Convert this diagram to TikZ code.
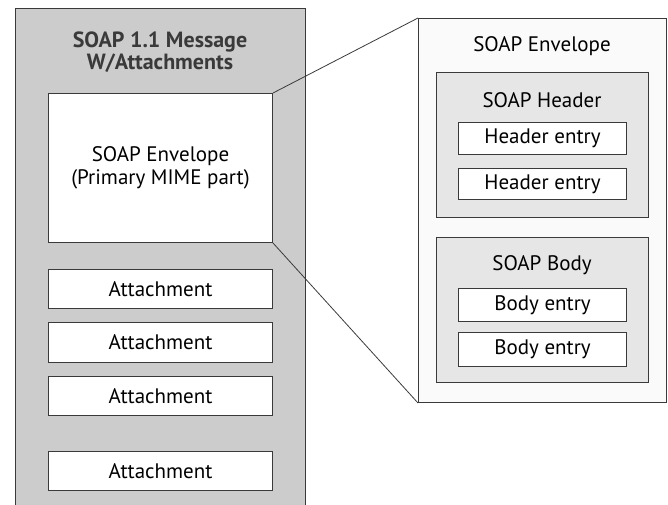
\documentclass[tikz,border=0pt]{standalone}
\usepackage{fontspec}
\setmainfont{PT Sans}
\definecolor{msggray}{HTML}{CCCCCC}
\definecolor{partgray}{HTML}{E6E6E6}
\definecolor{linegray}{HTML}{3A3A3A}
\tikzset{
  box/.style={draw=linegray, line width=1pt, inner sep=0pt, anchor=north west},
  entrybox/.style={box, fill=white, font=\fontsize{21}{23}\selectfont},
}
\begin{document}
\begin{tikzpicture}[x=1pt, y=-1pt]

    \useasboundingbox (0,0) rectangle (668,504);

    % 1. the message on the left (gray, runs past the bottom edge)
    \node[box, fill=msggray, minimum width=290pt, minimum height=520pt] (msg) at (15,8) {};
    \node[align=center, font=\fontsize{22}{22}\bfseries\selectfont, text=linegray] (title) at (160,52)
      {SOAP 1.1 Message\\W/Attachments};

    % 2. envelope inside the message and the attachments
    \node[entrybox, minimum width=224pt, minimum height=149pt, align=center] (env) at (48,93)
      {SOAP Envelope\\(Primary MIME part)};
    \node[entrybox, minimum width=224pt, minimum height=39pt] (att1) at (48,269) {Attachment};
    \node[entrybox, minimum width=224pt, minimum height=40pt] (att2) at (48,322) {Attachment};
    \node[entrybox, minimum width=224pt, minimum height=39pt] (att3) at (48,376) {Attachment};
    \node[entrybox, minimum width=224pt, minimum height=39pt] (att4) at (48,451) {Attachment};

    % 3. the envelope blown up on the right
    \node[box, fill=white!98!black, minimum width=248pt, minimum height=384pt] (bigenv) at (418,18) {};
    \node[font=\fontsize{21}{23}\selectfont] (bigenvlabel) at (542,46) {SOAP Envelope};

    % header part
    \node[box, fill=partgray, minimum width=212pt, minimum height=145pt] (header) at (436,72) {};
    \node[font=\fontsize{21}{23}\selectfont] (headerlabel) at (542,100) {SOAP Header};
    \node[entrybox, minimum width=168pt, minimum height=32pt] (hentry1) at (458,122) {Header entry};
    \node[entrybox, minimum width=168pt, minimum height=31pt] (hentry2) at (458,168) {Header entry};

    % body part
    \node[box, fill=partgray, minimum width=212pt, minimum height=145pt] (body) at (436,237) {};
    \node[font=\fontsize{21}{23}\selectfont] (bodylabel) at (542,265) {SOAP Body};
    \node[entrybox, minimum width=168pt, minimum height=33pt] (bentry1) at (458,288) {Body entry};
    \node[entrybox, minimum width=168pt, minimum height=34pt] (bentry2) at (458,332) {Body entry};

    % 4. lines tying the small envelope to the big one
    \draw[linegray, line width=0.8pt] (env.north east) -- (bigenv.north west);
    \draw[linegray, line width=0.8pt] (env.south east) -- (bigenv.south west);

  \end{tikzpicture}
\end{document}
